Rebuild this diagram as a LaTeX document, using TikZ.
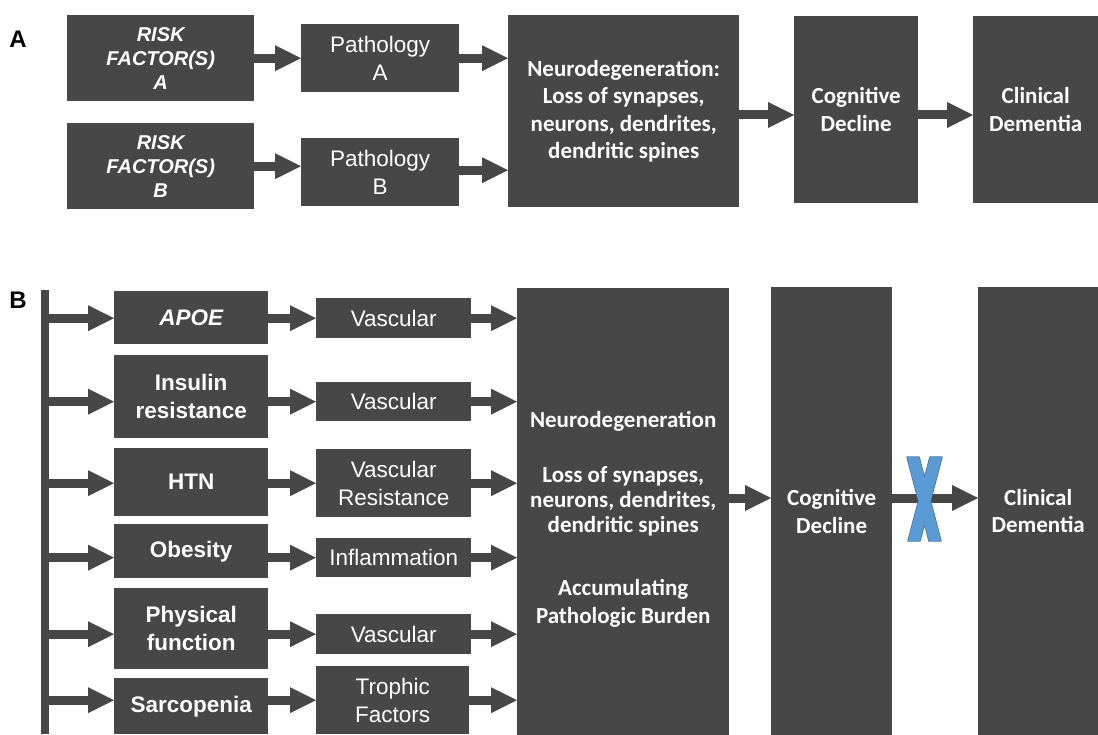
\documentclass[tikz,border=0pt]{standalone}
\usepackage{fontspec}
\setmainfont{Liberation Sans}
\newfontfamily\calfont{Carlito}
\usetikzlibrary{arrows.meta}
\definecolor{boxgray}{RGB}{71,71,71}
\definecolor{xfill}{RGB}{91,155,213}
\definecolor{xline}{RGB}{65,113,156}
\begin{document}
\begin{tikzpicture}[x=1pt,y=-1pt,
  box/.style={fill=boxgray, text=white, inner sep=0pt, anchor=north west, align=center},
  rfstyle/.style={box, font=\fontsize{20}{24}\selectfont\bfseries\itshape},
  regstyle/.style={box, font=\fontsize{22.5}{28}\selectfont},
  boldstyle/.style={box, font=\fontsize{22.5}{28}\selectfont\bfseries},
  calstyle/.style={box, font=\calfont\fontsize{23}{27.6}\selectfont\bfseries},
  caltext/.style={text=white, inner sep=0pt, align=center, font=\calfont\fontsize{23}{25}\selectfont\bfseries},
  conn/.style={draw=boxgray, line width=9pt, -{Triangle[length=26pt,width=26pt,line width=0pt]}},
  plabel/.style={font=\fontsize{24}{28}\selectfont\bfseries}
]
\useasboundingbox (0,0) rectangle (1098,735);
% ---------------- Panel A ----------------
\node[plabel] (la) at (18,39) {A};
\node[rfstyle, minimum width=187pt, minimum height=86pt] (rfa) at (67,15) {RISK\\FACTOR(S)\\A};
\node[rfstyle, minimum width=187pt, minimum height=86pt] (rfb) at (67,123) {RISK\\FACTOR(S)\\B};
\node[regstyle, minimum width=158pt, minimum height=68pt] (pa) at (301,24) {Pathology\\A};
\node[regstyle, minimum width=158pt, minimum height=68pt] (pb) at (301,138) {Pathology\\B};
\node[calstyle, minimum width=231pt, minimum height=192pt] (na) at (508,15) {Neurodegeneration:\\Loss of synapses,\\neurons, dendrites,\\dendritic spines};
\node[calstyle, minimum width=124pt, minimum height=187pt] (ca) at (794,16) {Cognitive\\Decline};
\node[calstyle, minimum width=125pt, minimum height=187pt] (da) at (973,16) {Clinical\\Dementia};
\draw[conn] (rfa.east |- pa.west) -- (pa.west);
\draw[conn] (rfb.east) -- (rfb.east -| pb.west);
\draw[conn] ([yshift=2pt]pb.east) -- ([yshift=2pt]pb.east -| na.west);
\draw[conn] (pa.east) -- (pa.east -| na.west);
\draw[conn] (na.east |- 0,115) -- (ca.west |- 0,115);
\draw[conn] (ca.east |- 0,115) -- (da.west |- 0,115);
% ---------------- Panel B ----------------
\node[plabel] (lb) at (18,300) {B};
\node[fill=boxgray, inner sep=0pt, anchor=north west, minimum width=8pt, minimum height=444pt] (bar) at (41,290) {};
\node[boldstyle, minimum width=154pt, minimum height=53pt] (apoe) at (114,291) {\itshape APOE};
\node[boldstyle, minimum width=154pt, minimum height=83pt] (ins) at (114,355) {Insulin\\resistance};
\node[boldstyle, minimum width=154pt, minimum height=68pt] (htn) at (114,448) {HTN};
\node[boldstyle, minimum width=154pt, minimum height=54pt] (obe) at (114,524) {Obesity};
\node[boldstyle, minimum width=154pt, minimum height=81pt] (phy) at (114,588) {Physical\\function};
\node[boldstyle, minimum width=154pt, minimum height=56pt] (sar) at (114,678) {Sarcopenia};
\node[regstyle, minimum width=155pt, minimum height=40pt] (v1) at (316,298) {Vascular};
\node[regstyle, minimum width=155pt, minimum height=39pt] (v2) at (316,382) {Vascular};
\node[regstyle, minimum width=155pt, minimum height=68pt] (vr) at (316,449) {Vascular\\Resistance};
\node[regstyle, minimum width=155pt, minimum height=39pt] (inf) at (316,538) {Inflammation};
\node[regstyle, minimum width=155pt, minimum height=40pt] (v3) at (316,614) {Vascular};
\node[regstyle, minimum width=153pt, minimum height=68pt] (tf) at (316,666) {Trophic\\Factors};
\node[box, minimum width=212pt, minimum height=447pt] (nb) at (517,288) {};
\node[caltext] (nbt) at ([yshift=-8pt]nb.center) {Neurodegeneration\\[30pt]Loss of synapses,\\neurons, dendrites,\\dendritic spines\\[38pt]Accumulating\\[3pt]Pathologic Burden};
\node[calstyle, minimum width=121pt, minimum height=448pt] (cb) at (771,287) {Cognitive\\Decline};
\node[calstyle, minimum width=120pt, minimum height=448pt] (db) at (978,287) {Clinical\\Dementia};
\foreach \a/\b in {apoe/v1, ins/v2, htn/vr, obe/inf, phy/v3, sar/tf}{
  \draw[conn] (bar.east |- \b.west) -- (\a.west |- \b.west);
  \draw[conn] (\a.east |- \b.west) -- (\b.west);
  \draw[conn] (\b.east) -- (\b.east -| nb.west);
}
\draw[conn] (nb.east |- 0,498) -- (cb.west |- 0,498);
\draw[conn] (cb.east |- 0,498) -- (db.west |- 0,498);
% the X over the last arrow
\draw[xline, line width=1.4pt, line join=round]
  (907,457) -- (919,457) -- (941,541) -- (929,541) -- cycle
  (930,457) -- (942,457) -- (920,541) -- (908,541) -- cycle;
\fill[xfill]
  (907,457) -- (919,457) -- (941,541) -- (929,541) -- cycle
  (930,457) -- (942,457) -- (920,541) -- (908,541) -- cycle;
\end{tikzpicture}
\end{document}
